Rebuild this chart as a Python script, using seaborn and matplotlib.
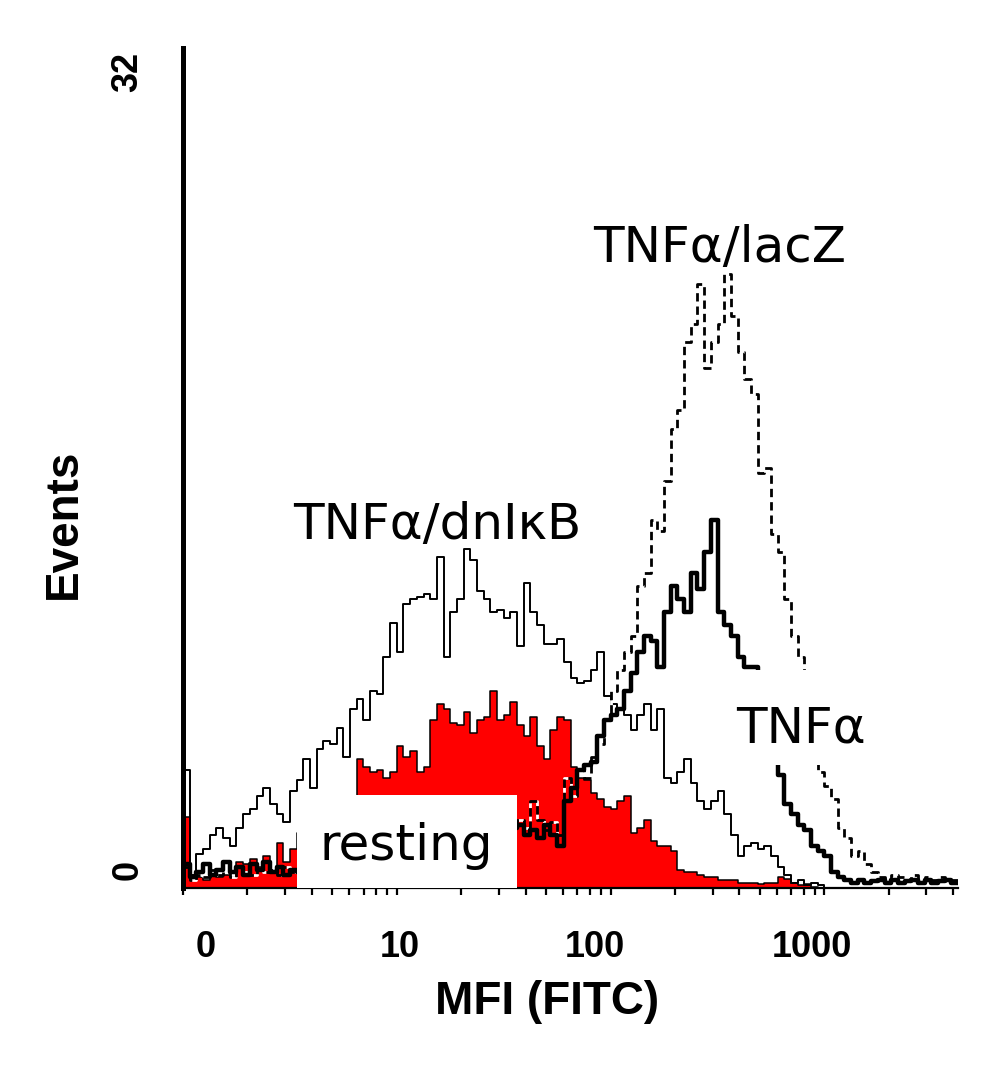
import numpy as np
import matplotlib
matplotlib.use("Agg")
import matplotlib.pyplot as plt
from matplotlib.patches import Rectangle
from matplotlib.ticker import FixedLocator, NullFormatter
import seaborn as sns

# ---------------- data (events per channel, 32 channels per decade) -------------
bins_per_decade = 32
n_bins = 116

resting = [2.7, 0.3, 0.4, 0.3, 0.5, 0.4, 0.5, 0.4, 1.0, 0.9, 1.1, 0.8, 1.2, 0.7, 1.7, 1.0, 1.5,
           2.1, 2.3, 2.5, 2.4, 2.8, 2.6, 3.0, 2.9, 3.2,
           4.9, 4.6, 4.4, 4.5, 4.2, 4.4, 5.4, 5.0, 5.2, 4.4, 4.6,
           6.4, 7.0, 6.8, 6.3, 6.2, 6.7, 5.9, 6.4, 6.5, 7.5, 6.4, 6.6, 7.1,
           6.2, 5.8, 6.5, 5.4, 4.9, 6.0, 6.5, 6.4, 4.6, 4.2, 4.1, 3.6, 3.4, 3.1, 3.0, 3.3, 3.5,
           2.1, 2.3, 2.6, 1.8, 1.6, 1.6, 1.4, 0.7, 0.6, 0.6, 0.5, 0.4, 0.4, 0.3, 0.3, 0.3, 0.2,
           0.2, 0.2, 0.15, 0.2, 0.2, 0.4, 0.35, 0.2, 0.1, 0.15, 0.05,
           0, 0, 0, 0, 0, 0, 0, 0, 0, 0, 0, 0, 0, 0, 0, 0, 0, 0, 0, 0, 0]

tnf_dnikb = [4.5, 0.5, 1.3, 1.5, 2.0, 2.3, 1.9, 1.6, 2.3, 2.8, 3.0, 3.5, 3.8, 3.2, 2.8, 2.5, 3.7,
             4.1, 4.9, 3.8, 5.3, 5.6, 5.5, 6.1, 5.0, 6.8, 7.2, 6.4, 7.5, 7.4, 8.8, 10.1,
             9.0, 10.8, 11.0, 11.1, 11.2, 11.0, 12.6, 8.8, 10.5, 11.0, 12.9, 12.5, 11.3, 11.0, 10.5, 10.6, 10.3, 10.5,
             9.2, 11.6, 10.5, 10.0, 9.3, 9.3, 9.5, 8.6, 8.0, 7.8, 7.9, 8.3, 9.0, 7.3, 7.0, 6.8, 6.6,
             6.0, 6.6, 7.0, 6.0, 6.8, 4.2, 4.0, 4.4, 4.9, 4.0, 3.3, 3.0, 3.3, 3.7, 2.8, 2.0, 1.2,
             1.6, 1.7, 1.5, 1.6, 1.2, 0.8, 0.5, 0.2, 0.3, 0.1, 0.2, 0.1,
             0, 0, 0, 0, 0, 0, 0, 0, 0, 0, 0, 0, 0, 0, 0, 0, 0, 0, 0, 0]

tnf = [0.9, 0.4, 0.6, 0.9, 0.5, 0.7, 1.0, 0.6, 0.8, 0.5, 0.9, 0.7, 1.0, 0.6, 0.8, 0.5, 0.7,
       0.6, 0.8, 0.7, 0.9, 0.6, 0.8, 1.0, 0.7, 0.9, 0.8, 1.0, 1.1, 0.9, 1.2, 1.0, 1.3, 1.1,
       1.4, 1.2, 1.3, 1.5, 1.4, 1.6, 1.5, 1.8, 1.6, 1.9, 1.8, 2.0, 1.9, 2.1, 2.2, 2.3,
       2.4, 2.0, 2.2, 1.9, 2.4, 2.0, 1.6, 3.3, 3.8, 4.5, 4.7, 4.8, 5.8, 6.4, 6.6, 6.8, 7.5,
       8.2, 9.0, 9.6, 9.4, 8.4, 10.5, 11.5, 11.0, 10.5, 12.0, 11.4, 12.8, 14.0, 10.5, 10.0, 9.6, 8.8, 8.4, 8.4,
       7.0, 6.0, 5.0, 4.3, 3.2, 2.8, 2.4, 2.2, 1.6, 1.4, 1.2, 0.6, 0.4, 0.3,
       0.2, 0.3, 0.2, 0.25, 0.3, 0.2, 0.3, 0.2, 0.25, 0.3, 0.2, 0.3, 0.2, 0.25, 0.3, 0.2]

tnf_lacz = [0.8, 0.3, 0.5, 0.4, 0.7, 0.5, 0.6, 0.4, 0.8, 0.6, 0.5, 0.9, 0.6, 0.7, 0.5, 0.8, 0.6,
            0.6, 0.7, 0.5, 0.8, 0.7, 0.9, 0.8, 1.0, 0.9, 1.1, 1.0, 1.2, 1.1, 1.3, 1.2, 1.4, 1.3,
            1.5, 1.4, 1.6, 1.5, 1.7, 1.6, 1.8, 1.7, 1.9, 2.0, 1.9, 2.1, 2.2, 2.0, 2.3, 2.5,
            2.6, 2.3, 3.3, 2.6, 2.2, 2.5, 2.0, 4.2, 3.5, 4.5, 4.2, 5.0, 5.5, 6.4, 7.5, 8.3, 9.0,
            9.6, 11.5, 12.0, 14.0, 13.6, 15.5, 17.5, 18.2, 20.8, 21.5, 23.0, 19.8, 20.8, 21.5, 23.4,
            21.8, 20.4, 19.4, 18.8, 15.8, 16.0, 13.5, 12.8, 11.0, 9.6, 8.8,
            7.0, 5.5, 4.4, 3.9, 3.4, 2.3, 1.9, 1.2, 1.4, 0.9, 0.6, 0.4,
            0.3, 0.5, 0.4, 0.3, 0.5, 0.3, 0.4, 0.3, 0.4, 0.3, 0.3]

x_tick_values = [1.27, 10.3, 84.0, 870.0]
x_tick_labels = ["0", "10", "100", "1000"]
y_tick_values = [0.7, 31.1]
y_tick_labels = ["0", "32"]

# ---------------- figure -------------
sns.set_style("white")
plt.rcParams["font.family"] = ["Liberation Sans", "DejaVu Sans"]
plt.rcParams["text.color"] = "black"
plt.rcParams["axes.labelcolor"] = "black"
plt.rcParams["xtick.color"] = "black"
plt.rcParams["ytick.color"] = "black"

fig = plt.figure(figsize=(10.04, 10.71), dpi=100)
ax = fig.add_axes([0.1823, 0.1709, 0.7719, 0.7843])

log_edges = (np.arange(n_bins + 1) / bins_per_decade).tolist()
centers = 10 ** ((np.array(log_edges[:-1]) + np.array(log_edges[1:])) / 2)

sns.histplot(x=centers, weights=resting, bins=log_edges, log_scale=True,
             element="step", fill=True, color="#ff0000", alpha=1,
             edgecolor="black", linewidth=1.1, zorder=1, ax=ax)
sns.histplot(x=centers, weights=tnf_dnikb, bins=log_edges, log_scale=True,
             element="step", fill=False, color="black", linewidth=1.4,
             zorder=2, ax=ax)
sns.histplot(x=centers, weights=tnf_lacz, bins=log_edges, log_scale=True,
             element="step", fill=False, color="black", linewidth=2.0,
             linestyle=(0, (3, 1.8)), gapcolor="white", zorder=3, ax=ax)
sns.histplot(x=centers, weights=tnf, bins=log_edges, log_scale=True,
             element="step", fill=False, color="black", linewidth=3.2,
             zorder=4, ax=ax)

xmax = 10 ** (n_bins / bins_per_decade)
ax.set_xlim(1, xmax)
ax.set_ylim(0, 32)

# white label boxes
ax.add_patch(Rectangle((3.41, 0), 36.4 - 3.41, 3.54, facecolor="white",
                       edgecolor="none", zorder=5))
ax.add_patch(Rectangle((388, 4.69), 1622 - 388, 8.30 - 4.69, facecolor="white",
                       edgecolor="none", zorder=5))

lab_kw = dict(ha="center", va="baseline", fontsize=36, family="DejaVu Sans",
              color="black", zorder=6)
ax.text(323, 23.85, "TNFα/lacZ", **lab_kw)
ax.text(15.4, 13.3, "TNFα/dnIκB", **lab_kw)
ax.text(781, 5.56, "TNFα", **lab_kw)
ax.text(11.1, 1.07, "resting", **lab_kw)

# ticks
ax.xaxis.set_major_locator(FixedLocator(x_tick_values))
ax.set_xticklabels(x_tick_labels, fontsize=26, fontweight="bold", color="black")
minor_x = [k * 10 ** d for d in range(4) for k in range(1, 10) if k * 10 ** d <= xmax]
ax.xaxis.set_minor_locator(FixedLocator(minor_x))
ax.xaxis.set_minor_formatter(NullFormatter())
ax.tick_params(axis="x", which="major", length=0, pad=30)
ax.tick_params(axis="x", which="minor", direction="out", length=5, width=1.6,
               color="black", bottom=True)

ax.yaxis.set_major_locator(FixedLocator(y_tick_values))
ax.set_yticklabels(y_tick_labels, fontsize=26, fontweight="bold",
                   rotation=90, va="center", color="black")
ax.yaxis.set_minor_locator(FixedLocator(np.linspace(0, 32, 57)))
ax.yaxis.set_minor_formatter(NullFormatter())
ax.tick_params(axis="y", which="major", length=0, pad=27)
ax.tick_params(axis="y", which="minor", direction="in", length=2.5, width=2.8,
               color="black", left=True)

for s in ["top", "right"]:
    ax.spines[s].set_visible(False)
ax.spines["left"].set_linewidth(3.6)
ax.spines["left"].set_color("black")
ax.spines["bottom"].set_linewidth(1.6)
ax.spines["bottom"].set_color("black")

ax.set_xlabel("MFI (FITC)", fontsize=33, fontweight="bold", va="top", color="black")
ax.xaxis.set_label_coords(0.470, -0.110)
ax.set_ylabel("Events", fontsize=33, fontweight="bold", va="bottom", color="black")
ax.yaxis.set_label_coords(-0.125, 0.433)

fig.savefig("out.png", dpi=100, facecolor="white")
